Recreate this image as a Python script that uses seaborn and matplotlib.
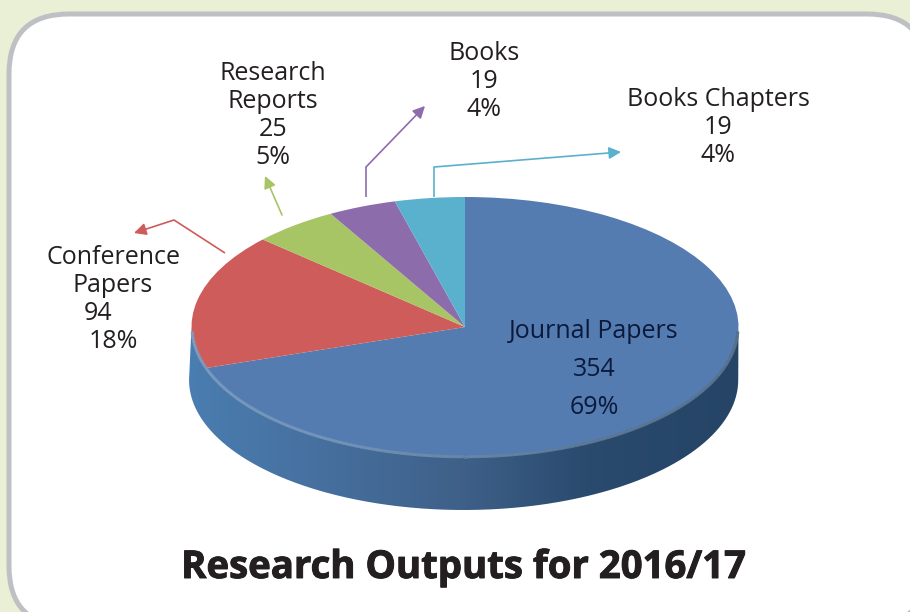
import numpy as np
import matplotlib
matplotlib.use("Agg")
import matplotlib.pyplot as plt
import seaborn as sns
import matplotlib.patheffects as pe
from matplotlib.collections import LineCollection
from matplotlib.colors import LinearSegmentedColormap
from matplotlib.patches import FancyBboxPatch, PathPatch
from matplotlib.path import Path

categories = ["Journal Papers", "Conference Papers", "Research Reports", "Books", "Books Chapters"]
values = [354, 94, 25, 19, 19]
slice_colors = ["#547CB0", "#CD5C5A", "#A8C565", "#8D6CAB", "#5AB1CE"]
title = "Research Outputs for 2016/17"

sns.set_theme(style="white")
plt.rcParams["font.family"] = ["Open Sans", "DejaVu Sans"]
palette = sns.color_palette(slice_colors)
W, H = 910, 612
CX, CY, RX, RY, DEPTH = 465, 327, 273.5, 130, 53

fig = plt.figure(figsize=(W / 100, H / 100), dpi=100, facecolor="#EAF0D6")

# panel + annotations share a pixel-coordinate axes
bg = fig.add_axes([0, 0, 1, 1], zorder=0)
bg.set_xlim(0, W); bg.set_ylim(H, 0); bg.axis("off")
bg.add_patch(FancyBboxPatch((9, 14), 918, 612, boxstyle="round,pad=0,rounding_size=60",
                            fc="white", ec="#BFC0C4", lw=3.6, mutation_aspect=1))

# pie axes: one data unit is one ellipse radius
ax = fig.add_axes([0, 0, 1, 1], zorder=1)
ax.patch.set_alpha(0)
wedges, _ = ax.pie(values, colors=palette, startangle=90, counterclock=False, radius=1,
                   wedgeprops=dict(linewidth=0))
# the tilted disc is foreshortened: angles near the diagonals open up slightly
for w in wedges:
    a, b = w.theta1, w.theta2
    w.set_theta1(a - 3.3 * np.sin(np.radians(2 * a)))
    w.set_theta2(b - 3.3 * np.sin(np.radians(2 * b)))
ax.set_aspect("auto")
xlim = (-CX / RX, (W - CX) / RX)
ylim = ((CY - H) / RY, CY / RY)

t = np.linspace(np.pi, 2 * np.pi, 300)
d = DEPTH / RY
sx = 1.004
side_x = np.r_[sx * np.cos(t) - 0.005, np.cos(t[::-1])]
side_y = np.r_[np.sin(t) - d, np.sin(t[::-1])]
side_patch = PathPatch(Path(np.column_stack([side_x, side_y])), fc="none", ec="none",
                       transform=ax.transData)
ax.add_patch(side_patch)
cmap = LinearSegmentedColormap.from_list(
    "side", [(0, "#4A7DB0"), (0.25, "#466F9E"), (0.5, "#3E6088"), (0.72, "#2A4A6E"), (1, "#254466")])
im = ax.imshow(np.linspace(0, 1, 512)[None, :], cmap=cmap, aspect="auto",
               extent=(-1.01, 1.005, -1 - d, 0.0), zorder=0.5, interpolation="bilinear")
im.set_clip_path(side_patch)

# lighter rim along the front edge
tr = np.linspace(np.radians(182), np.radians(358), 300)
pts = np.column_stack([np.cos(tr) * 0.998, np.sin(tr) * 0.998]).reshape(-1, 1, 2)
segs = np.concatenate([pts[:-1], pts[1:]], axis=1)
rim_cmap = LinearSegmentedColormap.from_list("rim", ["#7D9FC4", "#7394B8", "#5A7795", "#566F88"])
rim = LineCollection(segs, cmap=rim_cmap, linewidths=2.2, zorder=5)
rim.set_array(np.linspace(0, 1, len(segs)))
ax.add_collection(rim)
ax.set_xlim(xlim); ax.set_ylim(ylim)
ax.set_xticks([]); ax.set_yticks([])
for s in ax.spines.values():
    s.set_visible(False)

# overlay for leaders and text
ov = fig.add_axes([0, 0, 1, 1], zorder=2)
ov.patch.set_alpha(0)
ov.set_xlim(0, W); ov.set_ylim(H, 0); ov.axis("off")

leaders = {
    1: [(225, 253), (174, 220), (134, 233)],
    2: [(282, 215), (265, 176)],
    3: [(366, 197), (366, 167), (425, 106)],
    4: [(434, 197), (434, 167), (621, 152)],
}
for i, line in leaders.items():
    xs, ys = zip(*line)
    ov.plot(xs[:-1], ys[:-1], color=palette[i], lw=1.2, solid_capstyle="butt")
    ov.annotate("", xy=line[-1], xytext=line[-2],
                arrowprops=dict(arrowstyle="-|>,head_length=0.6,head_width=0.3",
                                color=palette[i], lw=1.2, shrinkA=0, shrinkB=0))

total = sum(values)
pct = [f"{round(v / total * 100)}%" for v in values]
ink = "#231F20"
FS = 18.0
def t_(x, y, s, color=ink):
    ov.text(x, y + 3, s, ha="center", va="center", fontsize=FS, color=color)

navy = "#0B1A3C"
t_(594, 328, categories[0], navy)
t_(594, 366, str(values[0]), navy)
t_(594, 404, pct[0], navy)

t_(113, 255, "Conference"); t_(113, 283, "Papers")
t_(98, 310, str(values[1])); t_(113, 338, pct[1])

t_(273, 71, "Research"); t_(273, 99, "Reports")
t_(273, 126, str(values[2])); t_(273, 154, pct[2])

t_(484, 50, categories[3]); t_(484, 78, str(values[3])); t_(484, 106, pct[3])

t_(718, 96, categories[4]); t_(718, 124, str(values[4])); t_(718, 152, pct[4])

ov.text(464, 568, title, ha="center", va="center", fontsize=27.6, fontweight="bold",
        color=ink, family=["Open Sans", "DejaVu Sans"],
        path_effects=[pe.withStroke(linewidth=0.7, foreground=ink)])

fig.savefig("out.png", dpi=100, facecolor=fig.get_facecolor())
